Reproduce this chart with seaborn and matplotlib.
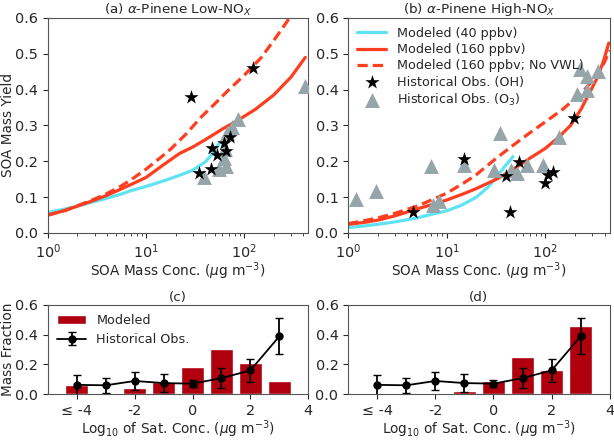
import numpy as np
import pandas as pd
import seaborn as sns
from matplotlib import pyplot as plt
from matplotlib import ticker

sns.set_style("ticks")
plt.rcParams["font.family"] = ["DejaVu Sans"]
plt.rcParams["axes.edgecolor"] = "#555555"

CYAN = "#5fe3f3"
RED = "#ff3d1f"
GRAY = "#95a5a9"
BAR = "#b0000d"

# ---- (a) low-NOx ----
a_c40_x = [1, 1.5, 2, 3, 4, 5.5, 7, 10, 15, 20, 30, 40, 48, 56]
a_c40_y = [0.057, 0.067, 0.075, 0.088, 0.097, 0.108, 0.118, 0.13, 0.145, 0.157, 0.175, 0.198, 0.222, 0.252]
a_c160_x = [1, 1.5, 2, 3, 4, 5.5, 7, 10, 15, 22, 30, 40, 60, 87, 130, 200, 300, 420]
a_c160_y = [0.05, 0.063, 0.075, 0.092, 0.105, 0.122, 0.135, 0.155, 0.19, 0.222, 0.24, 0.26, 0.29,
            0.315, 0.345, 0.385, 0.435, 0.49]
a_nvwl_x = [1, 1.5, 2, 3, 4, 5.5, 7, 10, 14, 18, 26, 36, 50, 70, 100, 150, 210, 290]
a_nvwl_y = [0.05, 0.063, 0.076, 0.095, 0.11, 0.13, 0.148, 0.178, 0.21, 0.235, 0.278, 0.322, 0.36,
            0.4, 0.44, 0.49, 0.545, 0.6]
a_oh_x = [29, 122, 35, 46, 47.5, 53, 63, 65, 72]
a_oh_y = [0.38, 0.46, 0.168, 0.178, 0.236, 0.218, 0.25, 0.23, 0.269]
a_o3_x = [39, 55, 65, 63, 64, 67, 75, 87.5, 420]
a_o3_y = [0.157, 0.178, 0.187, 0.208, 0.235, 0.278, 0.297, 0.317, 0.41]

# ---- (b) high-NOx ----
b_c40_x = [1, 1.5, 2.1, 3, 5, 7, 10, 14, 20, 26, 32, 38, 43, 47]
b_c40_y = [0.015, 0.02, 0.025, 0.031, 0.042, 0.052, 0.062, 0.077, 0.1, 0.127, 0.155, 0.183, 0.2, 0.213]
b_c160_x = [1, 1.5, 2.1, 3, 4.6, 7, 10, 15, 20, 33, 50, 71, 100, 140, 180, 230, 280, 335, 390, 440]
b_c160_y = [0.024, 0.03, 0.037, 0.048, 0.064, 0.079, 0.092, 0.11, 0.124, 0.152, 0.182, 0.21, 0.236,
            0.27, 0.3, 0.345, 0.39, 0.432, 0.48, 0.53]
b_nvwl_x = [1, 1.5, 2, 3, 5, 7, 10, 15, 20, 33, 50, 70, 100, 150, 200, 250, 300, 350, 400, 450]
b_nvwl_y = [0.026, 0.035, 0.042, 0.055, 0.075, 0.092, 0.111, 0.14, 0.163, 0.212, 0.25, 0.28, 0.31,
            0.345, 0.375, 0.4, 0.425, 0.45, 0.478, 0.51]
b_oh_x = [4.5, 15, 40, 43.4, 53.5, 100, 106, 119, 197]
b_oh_y = [0.059, 0.207, 0.158, 0.059, 0.198, 0.14, 0.163, 0.169, 0.321]
b_o3_x = [1.2, 1.9, 6.9, 7.3, 8.4, 15, 30, 35, 45, 52, 65.6, 95, 137, 210, 227, 265, 265, 343]
b_o3_y = [0.096, 0.118, 0.186, 0.079, 0.088, 0.19, 0.177, 0.279, 0.177, 0.167, 0.19, 0.19,
          0.268, 0.389, 0.458, 0.439, 0.398, 0.451]

# ---- (c)/(d) volatility distributions ----
bins = [-4, -3, -2, -1, 0, 1, 2, 3]
bin_labels = ["\u2264 -4", "-2", "0", "2", "4"]
c_model = [0.059, 0.011, 0.039, 0.081, 0.185, 0.305, 0.212, 0.092]
d_model = [0.0, 0.0, 0.007, 0.022, 0.092, 0.251, 0.164, 0.458]
obs_mean = [0.063, 0.060, 0.089, 0.075, 0.071, 0.108, 0.16, 0.388]
obs_err = [0.068, 0.052, 0.061, 0.058, 0.022, 0.067, 0.077, 0.121]

fig = plt.figure(figsize=(6.14, 4.41), dpi=100)
ax_a = fig.add_axes([0.078, 0.4717, 0.424, 0.4875])
ax_b = fig.add_axes([0.567, 0.4717, 0.426, 0.4875])
ax_c = fig.add_axes([0.078, 0.106, 0.424, 0.203])
ax_d = fig.add_axes([0.567, 0.106, 0.426, 0.203])

LW = 2.3
TICK = 10.4
LAB = 9.8
TTL = 9.7
LEG = 9.2


def yield_panel(ax, c40, c160, nvwl, oh, o3, title):
    sns.lineplot(x=c40[0], y=c40[1], ax=ax, color=CYAN, lw=LW, sort=False,
                 estimator=None, label="Modeled (40 ppbv)")
    sns.lineplot(x=c160[0], y=c160[1], ax=ax, color=RED, lw=LW, sort=False,
                 estimator=None, label="Modeled (160 ppbv)")
    sns.lineplot(x=nvwl[0], y=nvwl[1], ax=ax, color=RED, lw=LW, sort=False,
                 estimator=None, label="Modeled (160 ppbv; No VWL)")
    ax.lines[-1].set_linestyle((0, (3.2, 1.6)))
    sns.scatterplot(x=o3[0], y=o3[1], ax=ax, color=GRAY, marker="^", s=115,
                    linewidth=0, label="Historical Obs. (O$_3$)", zorder=3)
    sns.scatterplot(x=oh[0], y=oh[1], ax=ax, color="black", marker="*", s=115,
                    linewidth=0, label="Historical Obs. (OH)", zorder=4)
    ax.set_xscale("log")
    ax.set_xlim(1, 450)
    ax.set_ylim(0, 0.6)
    ax.yaxis.set_major_locator(ticker.MultipleLocator(0.1))
    ax.set_xlabel("SOA Mass Conc. ($\\mu$g m$^{-3}$)", fontsize=LAB, labelpad=-1)
    ax.set_title(title, fontsize=TTL, pad=3)
    ax.tick_params(labelsize=TICK)


yield_panel(ax_a, (a_c40_x, a_c40_y), (a_c160_x, a_c160_y), (a_nvwl_x, a_nvwl_y),
            (a_oh_x, a_oh_y), (a_o3_x, a_o3_y), "(a) $\\alpha$-Pinene Low-NO$_X$")
yield_panel(ax_b, (b_c40_x, b_c40_y), (b_c160_x, b_c160_y), (b_nvwl_x, b_nvwl_y),
            (b_oh_x, b_oh_y), (b_o3_x, b_o3_y), "(b) $\\alpha$-Pinene High-NO$_X$")
ax_a.set_ylabel("SOA Mass Yield", fontsize=LAB)
ax_a.yaxis.set_label_coords(-0.128, 0.5)
ax_a.get_legend().remove()
h, l = ax_b.get_legend_handles_labels()
order = [0, 1, 2, 4, 3]
ax_b.legend([h[i] for i in order], [l[i] for i in order], loc="upper left",
            frameon=False, fontsize=LEG, handlelength=2.3, borderaxespad=0.3,
            labelspacing=0.25, handletextpad=0.8)


def vol_panel(ax, model, title, legend):
    df = pd.DataFrame({"bin": bins, "frac": model})
    sns.barplot(data=df, x="bin", y="frac", ax=ax, native_scale=True, color=BAR,
                saturation=1, width=0.8, label="Modeled")
    ax.errorbar(bins, obs_mean, yerr=obs_err, color="black", marker="o", ms=5,
                lw=1.3, capsize=3, elinewidth=1.3, label="Historical Obs.")
    ax.set_xlim(-5, 4)
    ax.set_ylim(0, 0.6)
    ax.set_xticks([-4, -2, 0, 2, 4])
    ax.set_xticklabels(bin_labels)
    ax.yaxis.set_major_locator(ticker.MultipleLocator(0.2))
    ax.set_xlabel("Log$_{10}$ of Sat. Conc. ($\\mu$g m$^{-3}$)", fontsize=LAB, labelpad=0.5)
    ax.set_ylabel("")
    ax.set_title(title, fontsize=TTL, pad=3)
    ax.tick_params(labelsize=TICK)
    if legend:
        ax.legend(loc="upper left", frameon=False, fontsize=LEG, handlelength=2.3,
                  borderaxespad=0.3, handletextpad=0.8)
    elif ax.get_legend() is not None:
        ax.get_legend().remove()


vol_panel(ax_c, c_model, "(c)", True)
vol_panel(ax_d, d_model, "(d)", False)
ax_c.set_ylabel("Mass Fraction", fontsize=LAB)
ax_c.yaxis.set_label_coords(-0.128, 0.5)

fig.savefig("out.png", dpi=100)
